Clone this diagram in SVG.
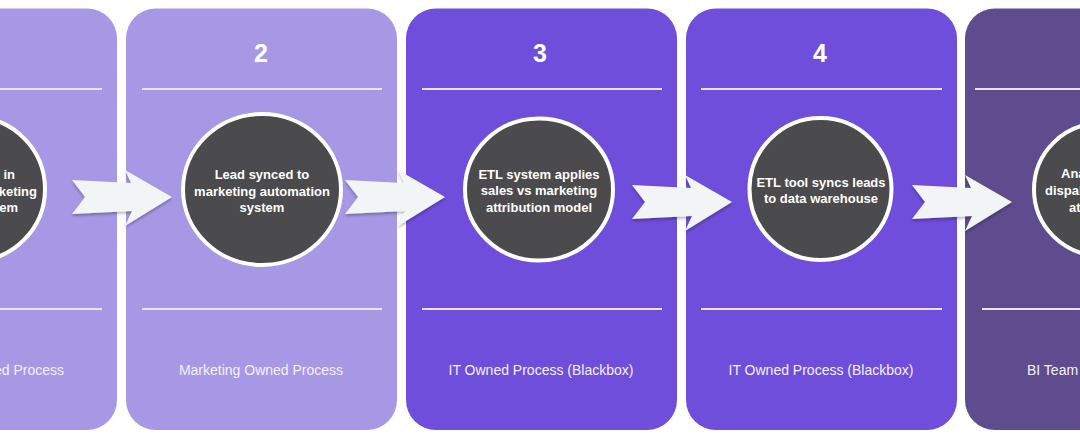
<svg xmlns="http://www.w3.org/2000/svg" width="1080" height="438" viewBox="0 0 1080 438">
<style>
.card-a{fill:#a798e6}
.card-b{fill:#6e4edb}
.card-c{fill:#5f4c8f}
.sep{stroke:#e9e4f8;stroke-width:2}
.num{font-family:"Liberation Sans",Arial,sans-serif;font-weight:bold;font-size:25px;fill:#ffffff;text-anchor:middle}
.node{fill:#4b4a4c;stroke:#ffffff;stroke-width:4}
.ct{font-family:"Liberation Sans",Arial,sans-serif;font-weight:bold;font-size:13px;fill:#ffffff;text-anchor:middle}
.lb{font-family:"Liberation Sans",Arial,sans-serif;font-size:14px;fill:#f4f1fc;text-anchor:middle}
.arrow{fill:#f3f4f6;filter:url(#sh)}
</style>
<defs>
<filter id="sh" x="-20%" y="-30%" width="140%" height="170%">
<feDropShadow dx="0" dy="2" stdDeviation="1.5" flood-color="#000000" flood-opacity="0.3"/>
</filter>
<path id="arr" d="M-100,-17 L-41,-14 L-47,-27 L0,0 L-47,29 L-40,14 L-100,17 L-87,0 Z"/>
</defs>
<rect width="1080" height="438" fill="#ffffff"/>

<g id="stage1">
<rect class="card-a" x="-154" y="8.5" width="271" height="421.5" rx="30"/>
<line class="sep" x1="-138" y1="89" x2="102" y2="89"/>
<line class="sep" x1="-138" y1="309" x2="102" y2="309"/>
<circle class="node" cx="-27" cy="189" r="72"/>
<text class="ct" style="text-anchor:end" x="15" y="179">Lead created in</text>
<text class="ct" style="text-anchor:end" x="37" y="196">CRM or marketing</text>
<text class="ct" style="text-anchor:end" x="18" y="212">system</text>
<text class="lb" style="text-anchor:end" x="64" y="375">Sales Owned Process</text>
</g>

<g id="stage2">
<rect class="card-a" x="126" y="8.5" width="271" height="421.5" rx="30"/>
<text class="num" x="261" y="62">2</text>
<line class="sep" x1="142" y1="89" x2="382" y2="89"/>
<line class="sep" x1="142" y1="309" x2="382" y2="309"/>
<ellipse class="node" cx="262" cy="189.5" rx="79" ry="75.5"/>
<text class="ct" x="262" y="179">Lead synced to</text>
<text class="ct" x="262" y="196">marketing automation</text>
<text class="ct" x="262" y="212">system</text>
<text class="lb" x="261" y="375">Marketing Owned Process</text>
</g>

<g id="stage3">
<rect class="card-b" x="406" y="8.5" width="271" height="421.5" rx="30"/>
<text class="num" x="540" y="62">3</text>
<line class="sep" x1="422" y1="89" x2="662" y2="89"/>
<line class="sep" x1="422" y1="309" x2="662" y2="309"/>
<ellipse class="node" cx="539" cy="189.5" rx="74" ry="71"/>
<text class="ct" x="539" y="179">ETL system applies</text>
<text class="ct" x="539" y="195">sales vs marketing</text>
<text class="ct" x="539" y="212">attribution model</text>
<text class="lb" x="541" y="375">IT Owned Process (Blackbox)</text>
</g>

<g id="stage4">
<rect class="card-b" x="686" y="8.5" width="271" height="421.5" rx="30"/>
<text class="num" x="820" y="62">4</text>
<line class="sep" x1="701" y1="89" x2="942" y2="89"/>
<line class="sep" x1="701" y1="309" x2="942" y2="309"/>
<circle class="node" cx="820.5" cy="189" r="71"/>
<text class="ct" x="821" y="187">ETL tool syncs leads</text>
<text class="ct" x="821" y="203">to data warehouse</text>
<text class="lb" x="821" y="375">IT Owned Process (Blackbox)</text>
</g>

<g id="stage5">
<rect class="card-c" x="965" y="8.5" width="271" height="421.5" rx="30"/>
<line class="sep" x1="975" y1="89" x2="1220" y2="89"/>
<line class="sep" x1="982" y1="309" x2="1220" y2="309"/>
<circle class="node" cx="1100" cy="189.5" r="66"/>
<text class="ct" style="text-anchor:start" x="1061" y="178">Analyst</text>
<text class="ct" style="text-anchor:start" x="1045" y="195">dispalys report</text>
<text class="ct" style="text-anchor:start" x="1069" y="212">attribution</text>
<text class="lb" style="text-anchor:start" x="1027" y="375">BI Team Owned Process</text>
</g>

<g id="connectors">
<use class="arrow" href="#arr" transform="translate(172,197)"/>
<use class="arrow" href="#arr" transform="translate(445,197)"/>
<use class="arrow" href="#arr" transform="translate(732,202)"/>
<use class="arrow" href="#arr" transform="translate(1012,202)"/>
</g>
</svg>
